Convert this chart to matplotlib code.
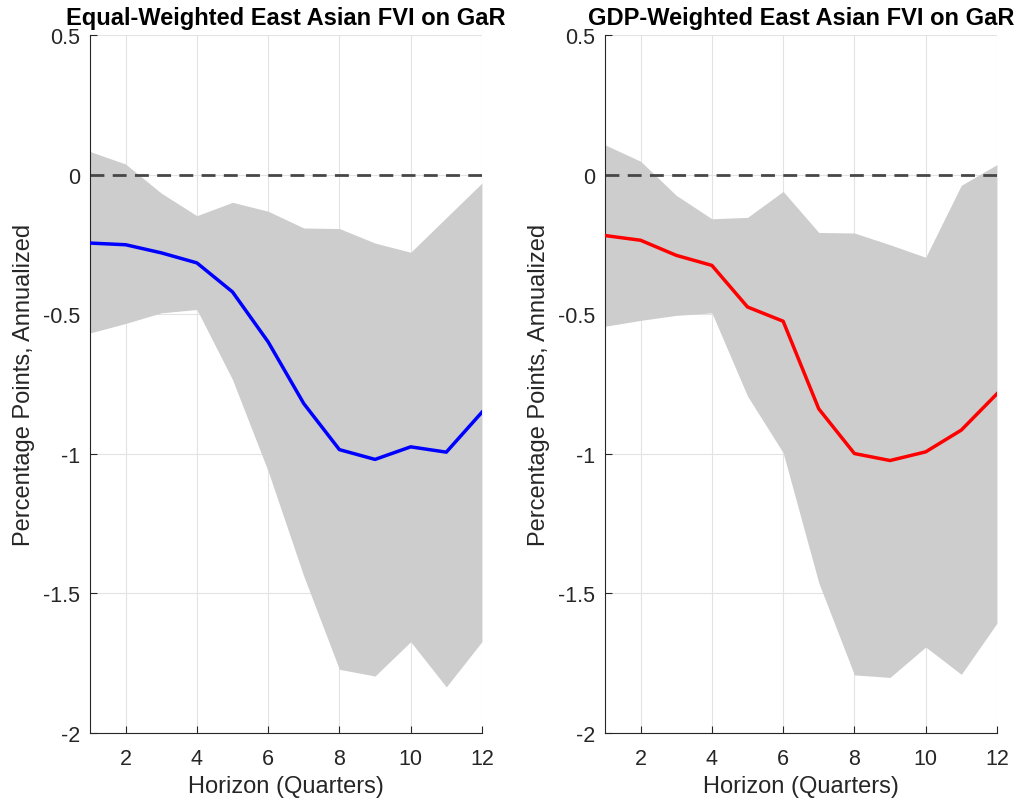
import numpy as np
import matplotlib
matplotlib.use("Agg")
import matplotlib.pyplot as plt

plt.rcParams.update({
    "font.family": ["Liberation Sans", "DejaVu Sans"],
    "axes.unicode_minus": False,
    "xtick.direction": "in",
    "ytick.direction": "in",
})

# Data
horizon = [1, 2, 3, 4, 5, 6, 7, 8, 9, 10, 11, 12]

eq_mid = [-0.245, -0.251, -0.28, -0.316, -0.42, -0.599, -0.82, -0.985, -1.02, -0.975, -0.994, -0.851]
eq_hi = [0.083, 0.038, -0.066, -0.147, -0.099, -0.131, -0.191, -0.193, -0.245, -0.278, -0.154, -0.03]
eq_lo = [-0.567, -0.533, -0.495, -0.483, -0.734, -1.062, -1.438, -1.772, -1.796, -1.673, -1.835, -1.673]

gdp_mid = [-0.218, -0.235, -0.289, -0.325, -0.474, -0.525, -0.839, -0.999, -1.024, -0.993, -0.915, -0.785]
gdp_hi = [0.107, 0.048, -0.074, -0.158, -0.153, -0.06, -0.207, -0.209, -0.251, -0.296, -0.038, 0.036]
gdp_lo = [-0.543, -0.522, -0.504, -0.495, -0.793, -0.996, -1.462, -1.792, -1.801, -1.692, -1.79, -1.607]

titles = ["Equal-Weighted East Asian FVI on GaR", "GDP-Weighted East Asian FVI on GaR"]
line_colors = ["#0000ff", "#ff0000"]
yticks = [0.5, 0, -0.5, -1, -1.5, -2]
ytick_labels = ["0.5", "0", "-0.5", "-1", "-1.5", "-2"]
xticks = [2, 4, 6, 8, 10, 12]

fig = plt.figure(figsize=(10.18, 8.04), dpi=100)
ax_l = fig.add_axes([0.0884, 0.0871, 0.385, 0.868])
ax_r = fig.add_axes([0.5943, 0.0871, 0.385, 0.868])

panels = [(ax_l, eq_mid, eq_lo, eq_hi), (ax_r, gdp_mid, gdp_lo, gdp_hi)]
for i, (ax, mid, lo, hi) in enumerate(panels):
    ax.fill_between(horizon, lo, hi, color="#cdcdcd", linewidth=0, zorder=1)
    ax.axhline(0, color="#474747", linestyle=(0, (5, 3)), linewidth=2, zorder=2)
    ax.plot(horizon, mid, color=line_colors[i], linewidth=2.5, zorder=3)

    ax.set_xlim(1, 12)
    ax.set_ylim(-2, 0.5)
    ax.set_xticks(xticks)
    ax.set_yticks(yticks)
    ax.set_yticklabels(ytick_labels)
    ax.grid(True, color="#e3e3e3", linewidth=0.8, zorder=0)
    ax.set_axisbelow(True)
    for s in ["top", "right"]:
        ax.spines[s].set_visible(False)
    for s in ["left", "bottom"]:
        ax.spines[s].set_color("#262626")
        ax.spines[s].set_linewidth(0.8)
    ax.tick_params(colors="#262626", labelsize=15.5, length=5, width=0.8)
    ax.tick_params(axis="x", pad=11)
    ax.tick_params(axis="y", pad=7)
    ax.set_xlabel("Horizon (Quarters)", fontsize=17, color="#262626", labelpad=4)
    ax.set_ylabel("Percentage Points, Annualized", fontsize=17, color="#262626", labelpad=6)
    ax.set_title(titles[i], fontsize=17, fontweight="bold", color="black", pad=8)

fig.savefig("out.png", dpi=100)
